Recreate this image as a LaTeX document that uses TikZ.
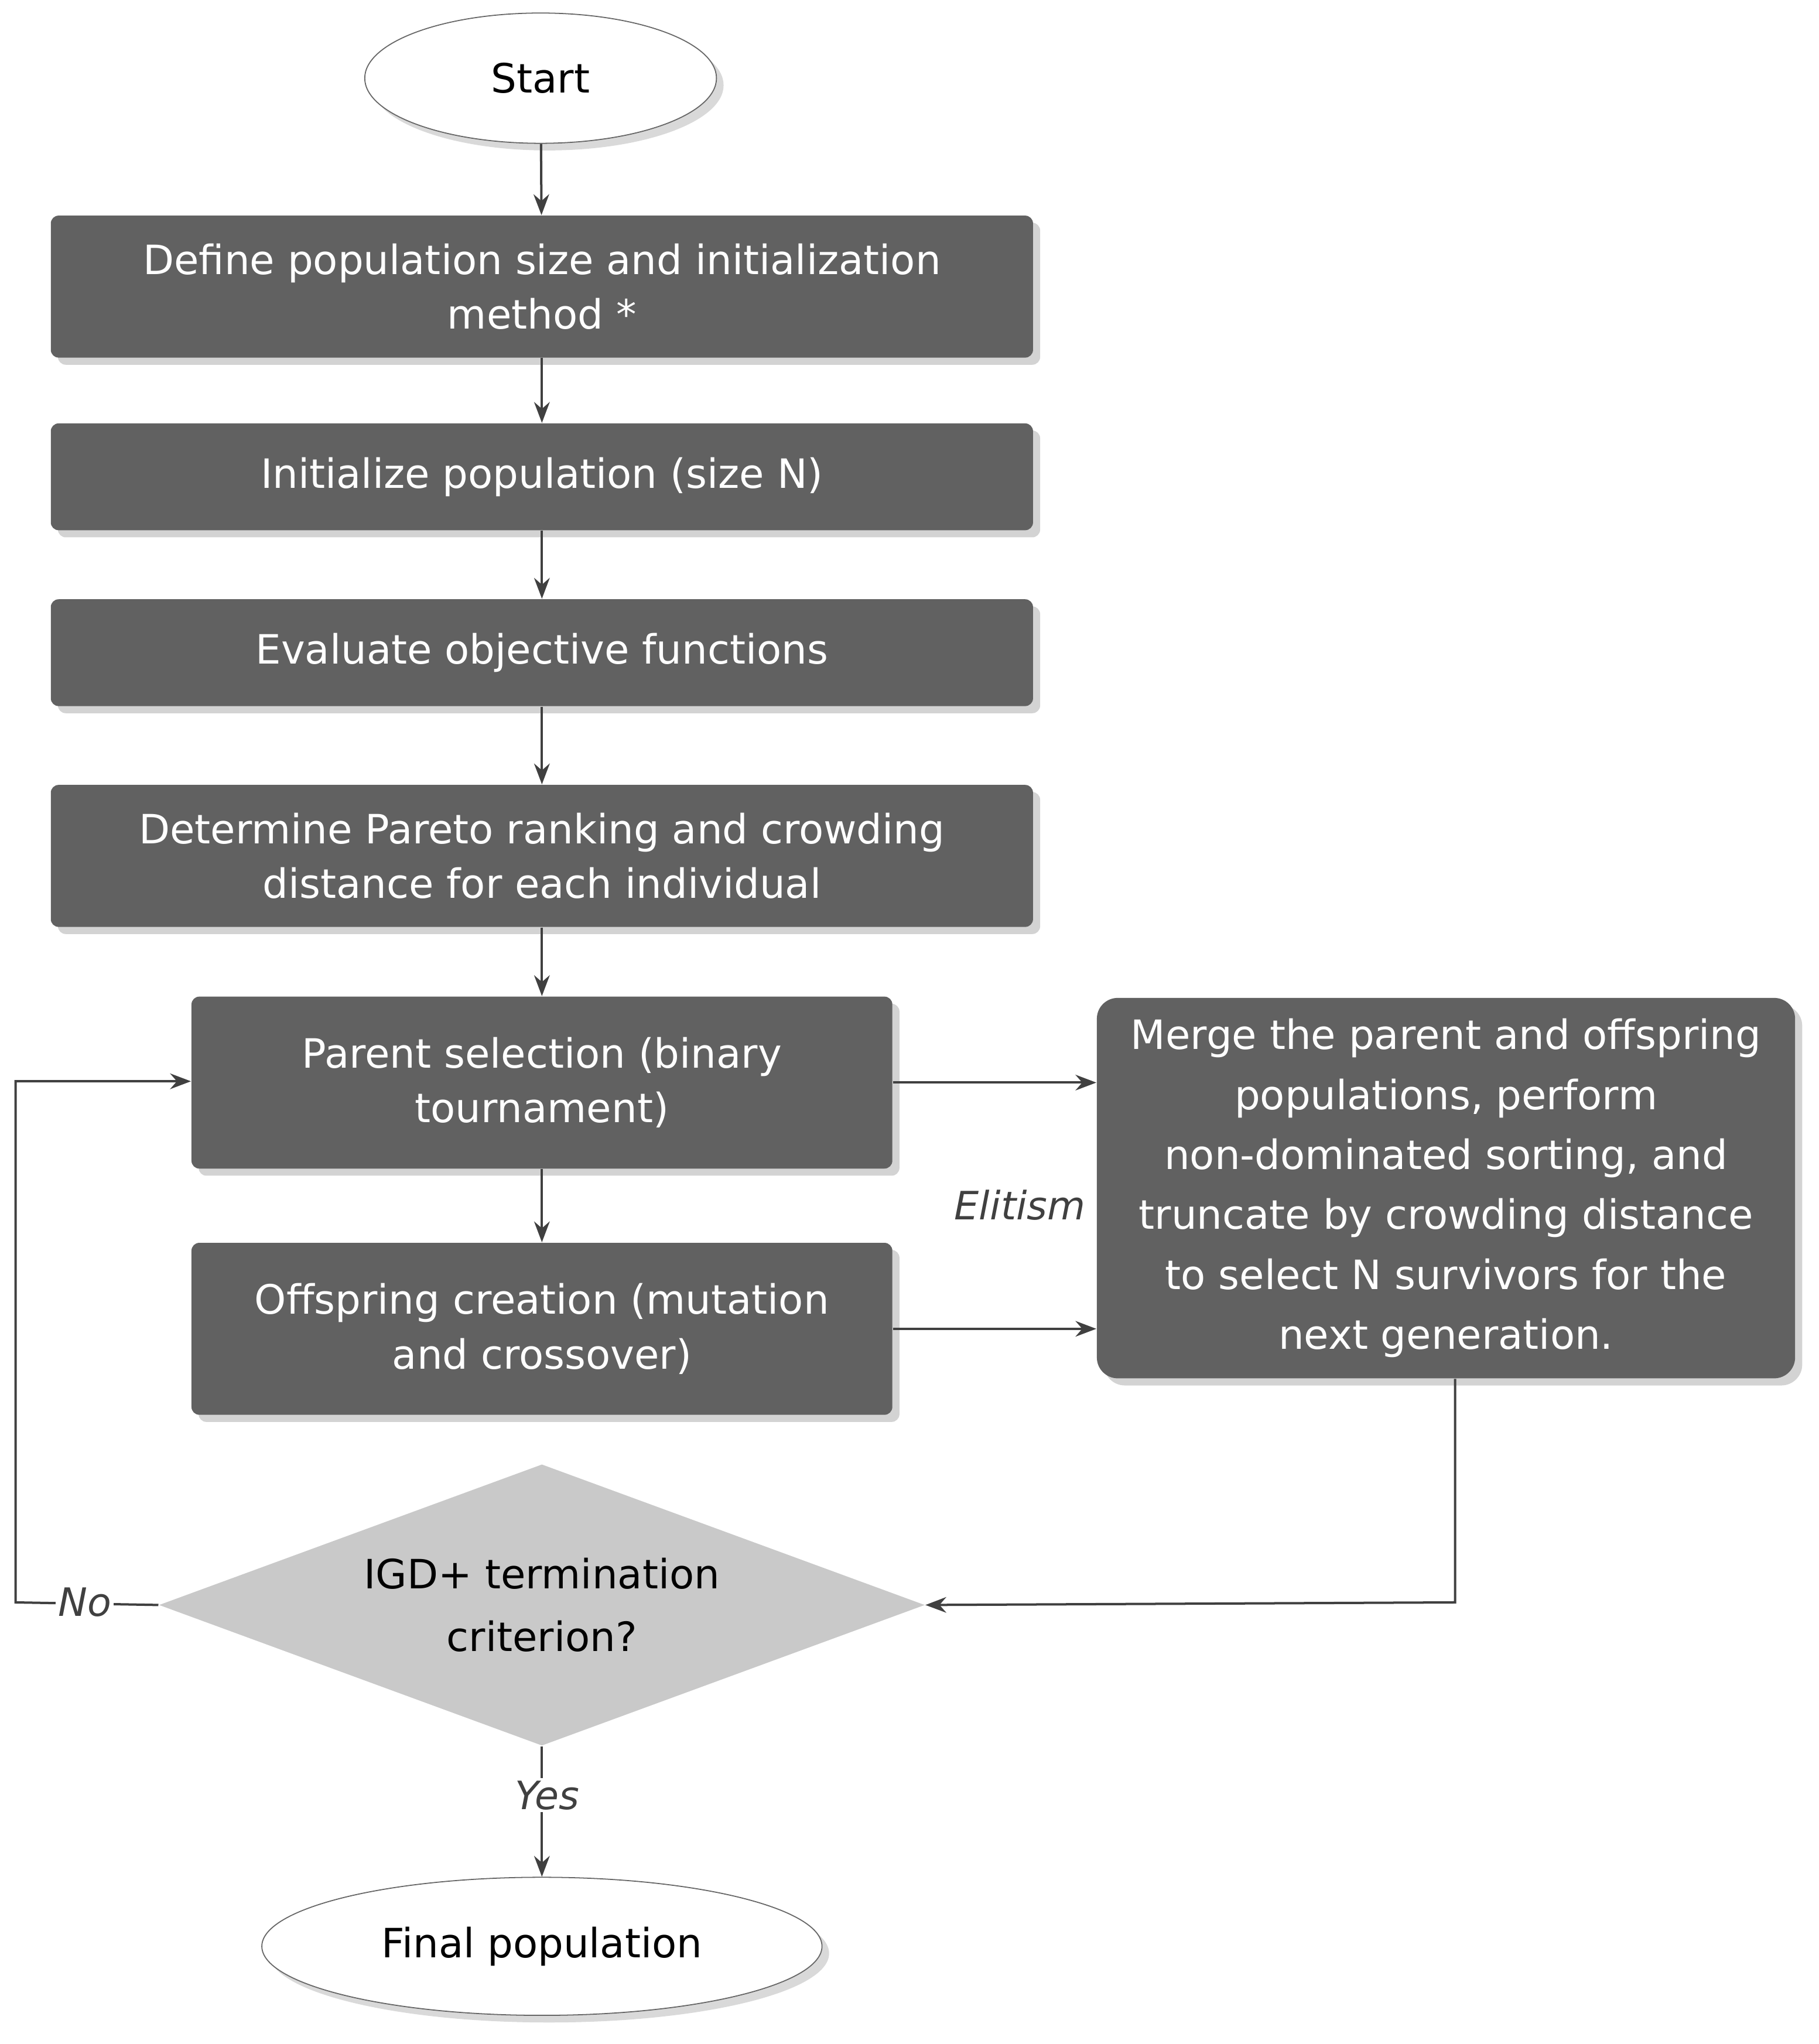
\documentclass[tikz,border=0pt]{standalone}
\usepackage{fontspec}
\setmainfont{DejaVu Sans}
\usetikzlibrary{shapes.geometric,arrows.meta,shadows}
\begin{document}
\begin{tikzpicture}[x=0.5pt,y=-0.5pt,
 box/.style={draw=none,fill=boxgray,text=white,rounded corners=3pt,drop shadow={opacity=0.35},font=\fontsize{15.5}{21}\selectfont,align=center,inner sep=0pt},
 term/.style={ellipse,draw=black!60,fill=white,drop shadow={opacity=0.3},font=\fontsize{15.5}{21}\selectfont,inner sep=0pt},
 arr/.style={-{Stealth[length=8pt,width=6pt]},draw=linegray,line width=0.9pt},
 lab/.style={font=\itshape\fontsize{15}{18}\selectfont,text=black!75,fill=white,inner sep=1pt}]
\definecolor{boxgray}{HTML}{616161}
\definecolor{linegray}{HTML}{404040}
\useasboundingbox (0,0) rectangle (1396,1569);
\node[term,minimum width=270pt*0.5*1,minimum height=50pt] (start) at (415,60) {Start};
\node[box,minimum width=377pt,minimum height=54.5pt] (b1) at (416,220) {Define population size and initialization\\method *};
\node[box,minimum width=377pt,minimum height=41pt] (b2) at (416,366) {Initialize population (size N)};
\node[box,minimum width=377pt,minimum height=41pt] (b3) at (416,501) {Evaluate objective functions};
\node[box,minimum width=377pt,minimum height=54.5pt] (b4) at (416,657) {Determine Pareto ranking and crowding\\distance for each individual};
\node[box,minimum width=269pt,minimum height=66pt] (b5) at (416,831) {Parent selection (binary\\tournament)};
\node[box,minimum width=269pt,minimum height=66pt] (b6) at (416,1020) {Offspring creation (mutation\\and crossover)};
\node[box,rounded corners=8pt,minimum width=268pt,minimum height=146pt,font=\fontsize{15.5}{23}\selectfont] (m) at (1110,912) {Merge the parent and offspring\\populations, perform\\non-dominated sorting, and\\truncate by crowding distance\\to select N survivors for the\\next generation.};
\node[diamond,fill=black!21,draw=none,aspect=2.7,minimum width=294pt,minimum height=108pt,inner sep=0pt,font=\fontsize{15.5}{24}\selectfont,align=center] (d) at (416,1232) {IGD+ termination\\criterion?};
\node[term,minimum width=215pt,minimum height=53pt] (fin) at (416,1494) {Final population};
\coordinate (c1) at (12,1230);
\coordinate (c2) at (12,830);
\coordinate (c3) at (1117,1230);
\draw[arr] (start) -- (b1);
\draw[arr] (b1) -- (b2);
\draw[arr] (b2) -- (b3);
\draw[arr] (b3) -- (b4);
\draw[arr] (b4) -- (b5);
\draw[arr] (b5) -- (b6);
\draw[arr] (b5.east) -- (b5.east -| m.west);
\draw[arr] (b6.east) -- (b6.east -| m.west);
\node[lab,fill=none] at (783,925) {Elitism};
\draw[arr] (m.south -| c3) -- (c3) -- (d.east);
\draw[arr] (d.west) -- (c1) -- (c2) -- (b5.west |- c2);
\node[lab] at (65,1230) {No};
\draw[arr] (d.south) -- (fin.north);
\node[lab] at (420,1378) {Yes};
\end{tikzpicture}
\end{document}
